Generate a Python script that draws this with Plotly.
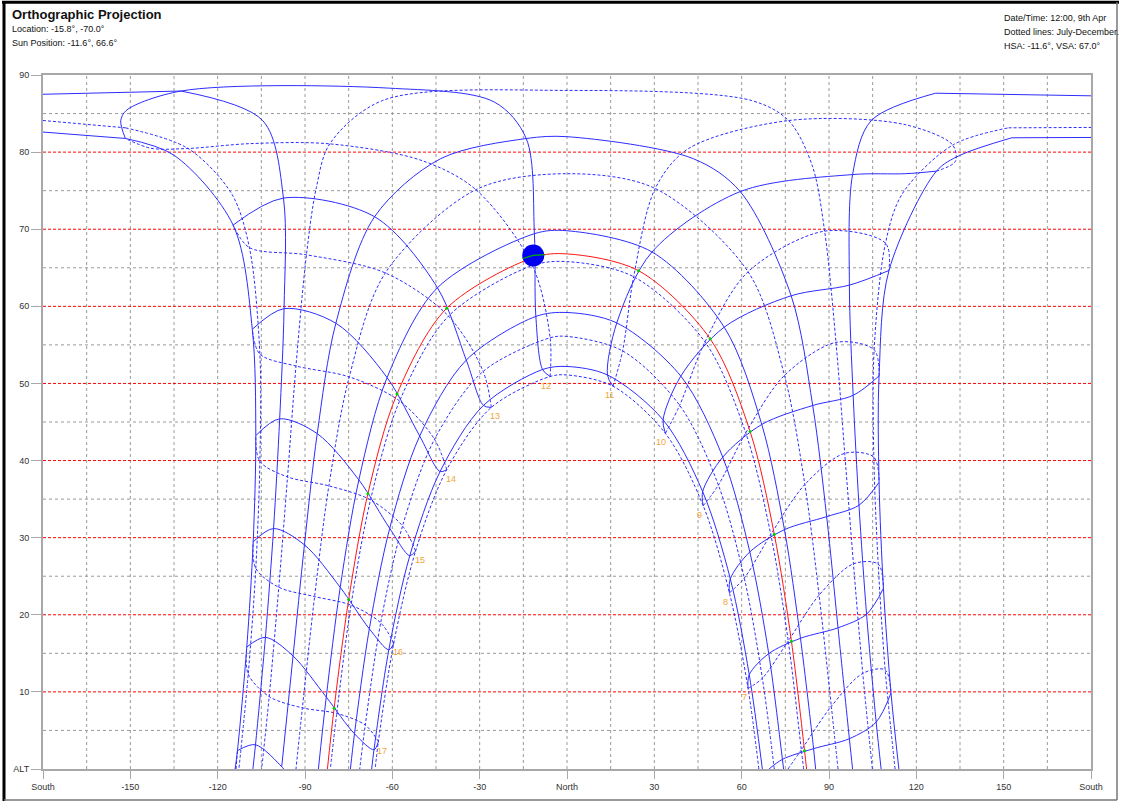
import plotly.graph_objects as go

# ---------------------------------------------------------------------------
# Sun path data for latitude -15.8, longitude -70.0.
# Each row: (clock hour, azimuth from north in deg, altitude in deg).
# Positive azimuth = morning side, negative = afternoon side, +/-180 = south.
# Whole-hour rows are also used to draw the hour loops.
# ---------------------------------------------------------------------------
JAN = [(5.26, 114.0, 0.0), (6, 111.3, 9.86), (7, 108.7, 23.43), (8, 107.2, 37.18),
       (9, 107.2, 50.98), (10, 110.6, 64.65), (11, 126.9, 77.53), (11.19, 134.9, 79.57),
       (11.45, 152.8, 81.86), (11.72, 180.0, 81.9), (11.72, -180.0, 82.6),
       (12, -151.7, 81.77), (12.25, -134.9, 79.57), (13, -114.7, 70.54),
       (14, -108.1, 57.03), (15, -106.9, 43.24), (16, -107.8, 29.46),
       (17, -110.0, 15.81), (18, -113.2, 2.38), (18.18, -114.0, 0.0)]
FEB = [(5.56, 107.9, 0.0), (6, 106.2, 6.09), (7, 102.9, 20.07), (8, 100.3, 34.21),
       (9, 98.3, 48.46), (10, 97.0, 62.75), (11, 98.1, 77.09), (11.49, 104.5, 84.08),
       (11.76, 126.6, 87.64), (11.89, 180.0, 87.3), (11.89, -180.0, 87.5),
       (12, -132.6, 87.92), (12.29, -104.5, 84.08), (13, -97.4, 74.04),
       (14, -97.2, 59.70), (15, -98.7, 45.41), (16, -100.8, 31.18),
       (17, -103.6, 17.07), (18, -107.0, 3.15), (18.23, -107.9, 0.0)]
MAR = [(5.73, 98.1, 0.0), (6, 97.0, 3.93), (7, 93.1, 18.31), (8, 89.2, 32.73),
       (9, 84.4, 47.14), (10, 77.0, 61.37), (11, 59.5, 74.88), (11.37, 43.5, 79.13),
       (11.87, 0.0, 82.0), (12, -14.0, 81.76), (12.37, -43.5, 79.13),
       (13, -66.1, 71.62), (14, -79.4, 57.81), (15, -85.8, 43.49),
       (16, -90.2, 29.07), (17, -94.1, 14.66), (18, -98.0, 0.30)]
APR = [(5.82, 85.4, 0.0), (6, 84.7, 2.64), (7, 80.2, 16.95), (8, 74.7, 31.04),
       (9, 66.9, 44.68), (10, 54.0, 57.30), (11, 29.2, 67.05), (11.73, 0.0, 69.8),
       (12, -11.2, 69.42), (13, -44.5, 62.41), (14, -61.8, 50.76), (15, -71.5, 37.49),
       (16, -77.9, 23.56), (17, -82.7, 9.33), (17.65, -85.4, 0.0)]
MAY = [(5.91, 74.4, 0.0), (6, 74.0, 1.25), (7, 69.3, 14.96), (8, 62.8, 28.15),
       (9, 53.5, 40.44), (10, 39.1, 50.95), (11, 17.1, 57.85), (11.62, 0.0, 59.2),
       (12, -10.7, 58.69), (13, -34.6, 53.03), (14, -50.6, 43.18), (15, -60.9, 31.21),
       (16, -67.9, 18.18), (17, -73.0, 4.57), (17.33, -74.4, 0.0)]
JUN = [(6.07, 67.1, 0.0), (7, 62.6, 12.23), (8, 56.1, 24.66), (9, 46.6, 35.97),
       (10, 33.0, 45.28), (11, 13.9, 51.10), (11.63, 0.0, 52.2), (12, -8.4, 51.81),
       (13, -28.7, 47.15), (14, -43.6, 38.57), (15, -54.0, 27.66), (16, -61.2, 15.46),
       (17, -66.3, 2.50), (17.19, -67.1, 0.0)]
JUL = [(6.20, 65.9, 0.0), (7, 62.2, 10.45), (8, 55.8, 22.84), (9, 46.8, 34.13),
       (10, 33.8, 43.52), (11, 15.8, 49.64), (11.73, 0.0, 51.1), (12, -5.8, 50.90),
       (13, -26.0, 46.89), (14, -41.3, 38.82), (15, -52.0, 28.28), (16, -59.5, 16.33),
       (17, -64.8, 3.56), (17.27, -65.9, 0.0)]
AUG = [(6.13, 71.2, 0.0), (7, 67.1, 11.77), (8, 60.9, 24.76), (9, 52.0, 36.82),
       (10, 38.7, 47.16), (11, 19.1, 54.22), (11.77, 0.0, 56.1), (12, -5.8, 55.92),
       (13, -28.8, 51.56), (14, -45.5, 42.76), (15, -56.5, 31.51), (16, -64.0, 18.96),
       (17, -69.3, 5.70), (17.42, -71.2, 0.0)]
SEP = [(5.83, 81.3, 0.0), (6, 80.5, 2.48), (7, 76.0, 16.60), (8, 70.0, 30.41),
       (9, 61.4, 43.58), (10, 47.4, 55.38), (11, 22.9, 63.84), (11.67, 0.0, 65.8),
       (12, -11.9, 65.29), (13, -40.7, 58.73), (14, -57.5, 47.73), (15, -67.5, 34.90),
       (16, -74.2, 21.25), (17, -79.1, 7.21), (17.51, -81.3, 0.0)]
OCT = [(5.44, 93.1, 0.0), (6, 90.8, 8.13), (7, 86.6, 22.55), (8, 81.7, 36.90),
       (9, 74.7, 51.04), (10, 62.2, 64.48), (11, 30.3, 75.28), (11.49, 0.0, 77.2),
       (12, -31.3, 75.13), (13, -62.4, 64.33), (14, -74.8, 50.85), (15, -81.8, 36.72),
       (16, -86.7, 22.36), (17, -90.9, 7.93), (17.55, -93.1, 0.0)]
NOV = [(5.12, 104.9, 0.0), (6, 101.6, 12.40), (7, 98.4, 26.61), (8, 95.4, 40.94),
       (9, 92.4, 55.33), (10, 88.5, 69.75), (10.59, 84.2, 78.3), (11, 76.1, 84.09),
       (11.19, 63.3, 86.7), (11.39, 0.0, 88.0), (11.59, -63.3, 86.7),
       (12, -81.5, 81.07), (12.39, -86.1, 75.4), (13, -89.5, 66.68),
       (14, -93.1, 52.26), (15, -96.0, 37.88), (16, -99.0, 23.57),
       (17, -102.3, 9.39), (17.67, -104.9, 0.0)]
DEC = [(5.05, 112.7, 0.0), (6, 109.3, 12.85), (7, 106.9, 26.57), (8, 105.4, 40.44),
       (9, 105.5, 54.36), (10, 109.4, 68.19), (10.48, 115.2, 74.6), (11, 132.5, 80.92),
       (11.25, 151.7, 83.15), (11.48, 180.0, 83.2), (11.48, -180.0, 84.1),
       (11.71, -151.7, 83.15), (12, -130.2, 80.47), (12.48, -115.2, 74.6),
       (13, -109.1, 67.62), (14, -105.5, 53.81), (15, -105.5, 39.89),
       (16, -106.9, 26.02), (17, -109.5, 12.30), (17.91, -112.7, 0.0)]

MONTH_PATHS = [JAN, FEB, MAR, APR, MAY, JUN, JUL, AUG, SEP, OCT, NOV, DEC]
MONTH_DAYS = [1, 32, 60, 91, 121, 152, 182, 213, 244, 274, 305, 335]

# Selected day: 9th April
TODAY = [(5.83, 82.3, 0.0), (6, 81.6, 2.38), (7, 77.1, 16.56), (8, 71.2, 30.45),
         (9, 62.9, 43.76), (10, 49.2, 55.78), (11, 24.6, 64.62), (11.69, 0.0, 66.8),
         (12, -11.4, 66.35), (13, -41.3, 59.76), (14, -58.4, 48.62), (15, -68.4, 35.69),
         (16, -75.0, 21.97), (17, -80.0, 7.88), (17.55, -82.3, 0.0)]
SUN_AZ, SUN_ALT = -11.6, 66.6

# Extra hour-loop samples: (day of year, azimuth, altitude)
LOOP_EXTRA_6 = [(139, 69.4, 0.0), (229, 75.9, 0.0)]
LOOP_EXTRA_11 = [(15, 116.2, 77.2), (288, 41.5, 80.4), (319, 115.7, 83.6), (349, 133.4, 78.8)]
LOOP_EXTRA_12 = [(15, -153.3, 84.05), (22, -151.4, 85.4), (39, -61.3, 88.3), (46, -25.0, 86.5),
                 (288, -49.8, 78.9), (319, -108.9, 81.1), (349, -142.9, 80.5)]
LOOP_EXTRA_18 = [(62, -97.3, 0.0), (343, -113.7, 0.0)]
LOOP_EXTRA = {6: LOOP_EXTRA_6, 11: LOOP_EXTRA_11, 12: LOOP_EXTRA_12, 18: LOOP_EXTRA_18}

LOOP_HOURS = list(range(6, 19))
LABEL_HOURS = list(range(7, 18))

X_TICKS = [-180, -150, -120, -90, -60, -30, 0, 30, 60, 90, 120, 150, 180]
X_TICK_TEXT = ["South", "-150", "-120", "-90", "-60", "-30", "North",
               "30", "60", "90", "120", "150", "South"]
Y_TICKS = [0, 10, 20, 30, 40, 50, 60, 70, 80, 90]
Y_TICK_TEXT = ["ALT", "10", "20", "30", "40", "50", "60", "70", "80", "90"]

# ---------------------------------------------------------------------------
BLUE = "rgb(45,45,255)"
DOTTED = "3px,2px"
W, H = 1121, 804
PL, PR, PT, PB = 43, 1091, 75, 771          # plot area in pixels


def px(x):
    return (x - PL) / (PR - PL)


def py(y):
    return (PB - y) / (PB - PT)


def split_at_wrap(rows):
    segs, cur = [], []
    for r in rows:
        if cur and abs(r[1] - cur[-1][1]) > 180:
            segs.append(cur)
            cur = []
        cur.append(r)
    segs.append(cur)
    return segs


fig = go.Figure()


def add_grid(xs, ys, color, dash):
    fig.add_trace(go.Scatter(x=xs, y=ys, mode="lines",
                             line=dict(color=color, width=1, dash=dash),
                             hoverinfo="skip", showlegend=False))


def add_line(rows, color, dash=None, width=1, shape="spline"):
    fig.add_trace(go.Scatter(
        x=[r[-2] for r in rows], y=[r[-1] for r in rows], mode="lines",
        line=dict(color=color, width=width, dash=dash, shape=shape, smoothing=0.9),
        hoverinfo="skip", showlegend=False))


def add_path(rows, color, dash=None, width=1):
    # pieces that run to the south edge are drawn straight, the rest smoothed
    for seg in split_at_wrap(rows):
        if abs(seg[0][1]) == 180:
            add_line(seg[:2], color, dash, width, "linear")
            seg = seg[1:]
        if abs(seg[-1][1]) == 180:
            add_line(seg[-2:], color, dash, width, "linear")
            seg = seg[:-1]
        if len(seg) > 1:
            add_line(seg, color, dash, width)


# Grid: grey every 15 deg azimuth and every 5 deg altitude, red every 10 deg altitude
GREY = "#9a9a9a"
gx, gy = [], []
for x in range(-165, 180, 15):
    gx += [x, x, None]
    gy += [0, 90, None]
for y in range(5, 90, 10):
    gx += [-180, 180, None]
    gy += [y, y, None]
add_grid(gx, gy, GREY, "3px,3px")
rx, ry = [], []
for y in range(10, 90, 10):
    rx += [-180, 180, None]
    ry += [y, y, None]
add_grid(rx, ry, "#ff0000", "3px,2px")

# Monthly day paths: Jan-Jun solid, Jul-Dec dotted
for i, path in enumerate(MONTH_PATHS):
    add_path(path, BLUE, None if i < 6 else DOTTED)

# Hour loops (analemmas)
for h in LOOP_HOURS:
    pts = []
    for day, path in zip(MONTH_DAYS, MONTH_PATHS):
        for t, az, alt in path:
            if t == h:
                pts.append((day, az, alt))
    pts += LOOP_EXTRA.get(h, [])
    pts.sort()
    first_half = [p for p in pts if p[0] <= 182]
    second_half = [p for p in pts if p[0] >= 182]
    if pts and pts[0][0] == 1:
        second_half.append((366, pts[0][1], pts[0][2]))
    if len(first_half) > 1:
        add_line(first_half, BLUE)
    if len(second_half) > 1:
        add_line(second_half, BLUE, DOTTED)

# Selected day path
add_path(TODAY, "rgb(255,20,20)")
fig.add_trace(go.Scatter(
    x=[r[1] for r in TODAY if r[0] == int(r[0])],
    y=[r[2] for r in TODAY if r[0] == int(r[0])],
    mode="markers", marker=dict(color="#00d000", size=3),
    hoverinfo="skip", showlegend=False))

# Current sun position
fig.add_trace(go.Scatter(x=[SUN_AZ], y=[SUN_ALT], mode="markers",
                         marker=dict(color="#0000f0", size=22, line=dict(width=0)),
                         hoverinfo="skip", showlegend=False))
fig.add_trace(go.Scatter(x=[SUN_AZ - 3.6, SUN_AZ, SUN_AZ + 4.0],
                         y=[SUN_ALT - 0.4, SUN_ALT, SUN_ALT + 0.1], mode="lines",
                         line=dict(color="#00b000", width=1.2),
                         hoverinfo="skip", showlegend=False))

# Hour labels near the low end of each loop
jul_rows = {t: (az, alt) for t, az, alt in JUL}
annotations = []
for h in LABEL_HOURS:
    az, alt = jul_rows[h]
    annotations.append(dict(x=az, y=alt, xref="x", yref="y", text=str(h),
                            showarrow=False, xshift=-4 if h <= 12 else 4, yshift=-9,
                            font=dict(size=9, color="#f2a43a", family="Liberation Sans")))

# Header text
TXT = dict(family="Liberation Sans, Arial", color="#111")
header = [
    ("<b>Orthographic Projection</b>", 10, 14, 13),
    ("Location: -15.8°, -70.0°", 10, 29, 9),
    ("Sun Position: -11.6°, 66.6°", 10, 43, 9),
    ("Date/Time: 12:00, 9th Apr", 1002, 18, 9),
    ("Dotted lines: July-December.", 1002, 32, 9),
    ("HSA: -11.6°, VSA: 67.0°", 1002, 46, 9),
]
for text, x, y, size in header:
    annotations.append(dict(x=px(x), y=py(y), xref="paper", yref="paper", text=text,
                            showarrow=False, xanchor="left", yanchor="middle",
                            font=dict(size=size, **TXT)))

# Outer frame
shapes = [
    dict(type="line", xref="paper", yref="paper", x0=px(2), x1=px(1119), y0=py(2), y1=py(2),
         line=dict(color="black", width=3)),
    dict(type="line", xref="paper", yref="paper", x0=px(4), x1=px(4), y0=py(1), y1=py(803),
         line=dict(color="black", width=3)),
    dict(type="line", xref="paper", yref="paper", x0=px(1117), x1=px(1117), y0=py(2), y1=py(802),
         line=dict(color="#777", width=1.5)),
    dict(type="line", xref="paper", yref="paper", x0=px(4), x1=px(1117), y0=py(802), y1=py(802),
         line=dict(color="#777", width=1.5)),
]

fig.update_layout(
    width=W, height=H, autosize=False,
    margin=dict(l=PL, r=W - PR, t=PT, b=H - PB, pad=0),
    paper_bgcolor="white", plot_bgcolor="white",
    shapes=shapes, annotations=annotations,
    font=dict(family="Liberation Sans, Arial", size=9, color="#333"),
    xaxis=dict(range=[-180, 180], tickmode="array", tickvals=X_TICKS, ticktext=X_TICK_TEXT,
               showgrid=False, zeroline=False, showline=True, linecolor="#a8a8a8",
               linewidth=2, mirror=True, ticks="outside", ticklen=8, tickcolor="#a8a8a8",
               tickwidth=1, tickfont=dict(size=9, color="#333")),
    yaxis=dict(range=[0, 90], tickmode="array", tickvals=Y_TICKS, ticktext=Y_TICK_TEXT,
               showgrid=False, zeroline=False, showline=True, linecolor="#a8a8a8",
               linewidth=2, mirror=True, ticks="outside", ticklen=10, tickcolor="#a8a8a8",
               tickwidth=1, tickfont=dict(size=9, color="#333")),
)

fig.write_html("out.html", config={"displayModeBar": False})
